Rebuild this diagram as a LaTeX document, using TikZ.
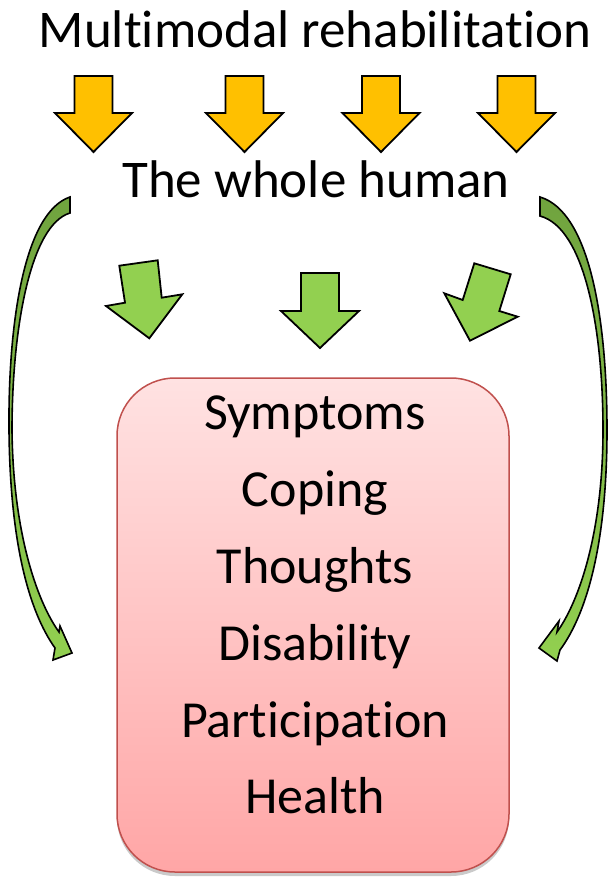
\documentclass[tikz,border=0pt]{standalone}
\usepackage{fontspec}
\setmainfont{Carlito}[Ligatures=NoCommon]
\usetikzlibrary{shadows}
\definecolor{arryellow}{RGB}{255,192,0}
\definecolor{arrgreen}{RGB}{146,208,80}
\definecolor{arrdark}{RGB}{112,163,62}
\definecolor{boxtop}{RGB}{255,226,226}
\definecolor{boxbot}{RGB}{255,166,166}
\definecolor{boxline}{RGB}{192,80,77}
\tikzset{
  bigtext/.style={font=\fontsize{53}{60}\selectfont, anchor=base, inner sep=0pt},
  boxtext/.style={font=\fontsize{52}{60}\selectfont, anchor=base, inner sep=0pt},
  yarrow/.style={fill=arryellow, draw=black, line width=1.8pt, line join=miter},
  garrow/.style={fill=arrgreen, draw=black, line width=1.8pt, line join=miter},
  carrow/.style={top color=arrdark, bottom color=arrgreen, draw=black, line width=1.6pt, line join=miter},
}
\begin{document}
\begin{tikzpicture}[x=1pt,y=-1pt]
\useasboundingbox (0,0) rectangle (609,878);

% box
\node[draw=boxline, line width=1.5pt, rounded corners=58pt, top color=boxtop, bottom color=boxbot,
      minimum width=392pt, minimum height=494pt, inner sep=0pt,
      drop shadow={shadow xshift=0pt, shadow yshift=-4pt, opacity=0.35, fill=black!60}]
      (box) at (313,625) {};

% texts
\node[bigtext] (title) at (315,47) {Multimodal rehabilitation};
\node[bigtext] (whole) at (316,197) {The whole human};
\node[boxtext] (t1) at (315,429) {Symptoms};
\node[boxtext] (t2) at (315,506) {Coping};
\node[boxtext] (t3) at (315,583) {Thoughts};
\node[boxtext] (t4) at (315,660) {Disability};
\node[boxtext] (t5) at (315,737) {Participation};
\node[boxtext] (t6) at (315,813) {Health};

% yellow arrows
\foreach \cx in {93.5,244.5,381,516.5}{
  \draw[yarrow] (\cx-19,76) -- (\cx+19,76) -- (\cx+19,113) -- (\cx+38.5,113)
     -- (\cx,152) -- (\cx-38.5,113) -- (\cx-19,113) -- cycle;
}

% green arrows
\draw[garrow] (301,273) -- (339,273) -- (339,311) -- (359,311) -- (320,348)
   -- (281,311) -- (301,311) -- cycle;
\draw[garrow] (119.3,265.7) -- (157.7,260.3) -- (161.7,297.7) -- (182.3,294.3)
   -- (149.3,338.3) -- (106,306) -- (125,302.7) -- cycle;
\draw[garrow] (474.3,263.3) -- (510.7,274.3) -- (499.3,311) -- (517.7,316.7)
   -- (470,340.7) -- (444.3,293.3) -- (462.7,300) -- cycle;

% curved arrows
\draw[carrow] (70,197) .. controls (25,212) and (8,320) .. (9,430)
   .. controls (10,540) and (28,610) .. (55,648)
   -- (53,660) -- (72,653) -- (60,626) -- (59,632)
   .. controls (36,600) and (13,530) .. (12,430)
   .. controls (12,330) and (30,225) .. (70,213) -- cycle;
\draw[carrow] (540,197) .. controls (590,212) and (607,320) .. (607,430)
   .. controls (607,540) and (588,612) .. (560,650)
   -- (557,661) -- (539,648) -- (559,621) -- (557,632)
   .. controls (580,600) and (603,530) .. (603,430)
   .. controls (603,330) and (585,228) .. (540,216) -- cycle;
\end{tikzpicture}
\end{document}
